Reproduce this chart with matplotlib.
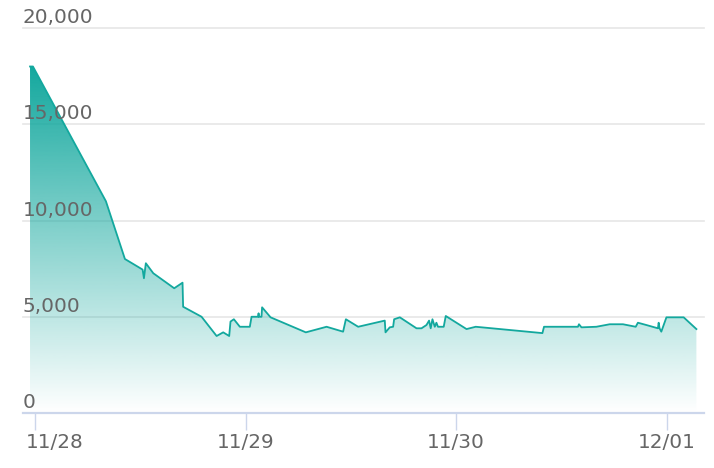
import numpy as np
import pandas as pd
import matplotlib
matplotlib.use("Agg")
import matplotlib.pyplot as plt
import matplotlib.dates as mdates
from matplotlib.patches import Polygon
from matplotlib.colors import to_rgb
from matplotlib.transforms import ScaledTranslation, blended_transform_factory

# данные
times = [
    "2023-11-27 23:26", "2023-11-27 23:46", "2023-11-28 08:05", "2023-11-28 10:15",
    "2023-11-28 12:16", "2023-11-28 12:25", "2023-11-28 12:38", "2023-11-28 13:29",
    "2023-11-28 15:52", "2023-11-28 16:49", "2023-11-28 16:53", "2023-11-28 18:59",
    "2023-11-28 20:42", "2023-11-28 21:27", "2023-11-28 22:08", "2023-11-28 22:17",
    "2023-11-28 22:40", "2023-11-28 23:21", "2023-11-29 00:29", "2023-11-29 00:41",
    "2023-11-29 01:26", "2023-11-29 01:29", "2023-11-29 01:31", "2023-11-29 01:49",
    "2023-11-29 01:53", "2023-11-29 02:51", "2023-11-29 06:52", "2023-11-29 09:14",
    "2023-11-29 11:07", "2023-11-29 11:26", "2023-11-29 12:50", "2023-11-29 15:52",
    "2023-11-29 15:57", "2023-11-29 16:26", "2023-11-29 16:49", "2023-11-29 16:56",
    "2023-11-29 17:35", "2023-11-29 19:29", "2023-11-29 20:03", "2023-11-29 20:37",
    "2023-11-29 20:55", "2023-11-29 21:06", "2023-11-29 21:18", "2023-11-29 21:34",
    "2023-11-29 21:45", "2023-11-29 21:56", "2023-11-29 22:35", "2023-11-29 22:49",
    "2023-11-30 01:11", "2023-11-30 02:14", "2023-11-30 09:50", "2023-11-30 10:01",
    "2023-11-30 13:53", "2023-11-30 14:00", "2023-11-30 14:17", "2023-11-30 15:59",
    "2023-11-30 17:30", "2023-11-30 19:01", "2023-11-30 20:28", "2023-11-30 20:43",
    "2023-11-30 21:41", "2023-11-30 23:00", "2023-11-30 23:05", "2023-11-30 23:11",
    "2023-11-30 23:23", "2023-11-30 23:58", "2023-12-01 01:56", "2023-12-01 03:23",
]
values = [
    18000, 18000, 11000, 8000,
    7450, 7000, 7780, 7260,
    6480, 6770, 5520, 5000,
    4000, 4190, 4000, 4750,
    4870, 4480, 4480, 5000,
    5000, 5180, 5000, 5000,
    5490, 4970, 4190, 4480,
    4225, 4870, 4480, 4800,
    4190, 4450, 4480, 4870,
    4970, 4400, 4400, 4570,
    4800, 4400, 4870, 4480,
    4690, 4480, 4480, 5040,
    4360, 4480, 4150, 4480,
    4480, 4610, 4450, 4480,
    4610, 4610, 4480, 4690,
    4570, 4400, 4690, 4400,
    4225, 4970, 4970, 4360,
]
tick_days = ["2023-11-28", "2023-11-29", "2023-11-30", "2023-12-01"]
tick_labels = ["11/28", "11/29", "11/30", "12/01"]
y_ticks = [0, 5000, 10000, 15000, 20000]

line_color = "#13a89e"
text_color = "#666666"
axis_color = "#ccd6eb"

x = mdates.date2num(pd.to_datetime(times))
y = np.array(values, dtype=float)

fig = plt.figure(figsize=(7.14, 4.68), dpi=100)
ax = fig.add_axes([23 / 714, 55 / 468, 681 / 714, 385 / 468])

day0 = mdates.date2num(pd.Timestamp("2023-11-28"))
ax.set_xlim(day0 - 1.367 / 24, day0 + 76.25 / 24)
ax.set_ylim(0, 20000)

# градиентная заливка под линией
rgb = to_rgb(line_color)
grad = np.zeros((256, 1, 4))
grad[:, 0, :3] = rgb
grad[:, 0, 3] = np.linspace(0.0, 1.0, 256)
img = ax.imshow(grad, origin="lower", aspect="auto",
                extent=[x[0], x[-1], 0, y.max()], zorder=1)
verts = np.vstack([[x[0], 0], np.column_stack([x, y]), [x[-1], 0]])
poly = Polygon(verts, closed=True, facecolor="none", edgecolor="none")
ax.add_patch(poly)
img.set_clip_path(poly)

ax.plot(x, y, color=line_color, lw=1.3, zorder=3)

# сетка и оси
ax.set_yticks(y_ticks)
ax.yaxis.grid(True, color="#e6e6e6", lw=1.2, clip_on=False)
ax.set_axisbelow(True)
ax.tick_params(axis="y", left=False, labelleft=False)
for s in ["top", "right", "left"]:
    ax.spines[s].set_visible(False)
ax.spines["bottom"].set_color(axis_color)
ax.spines["bottom"].set_linewidth(1.6)
ax.spines["bottom"].set_zorder(4)

trans = blended_transform_factory(ax.transAxes, ax.transData)
for v in y_ticks:
    ax.annotate(f"{v:,}", xy=(0, v), xycoords=trans, xytext=(0, 3.6),
                textcoords="offset points", ha="left", va="baseline",
                fontsize=14.4, color=text_color, zorder=5)

ax.set_xticks(mdates.date2num(pd.to_datetime(tick_days)))
ax.set_xticklabels(tick_labels)
ax.tick_params(axis="x", length=12.2, width=1, color=axis_color,
               labelsize=14.4, labelcolor=text_color, pad=2)

# первую подпись сдвигаем вправо, как в оригинале
lbl = ax.get_xticklabels()[0]
lbl.set_transform(lbl.get_transform() + ScaledTranslation(0.2, 0, fig.dpi_scale_trans))

fig.savefig("out.png", dpi=100)
